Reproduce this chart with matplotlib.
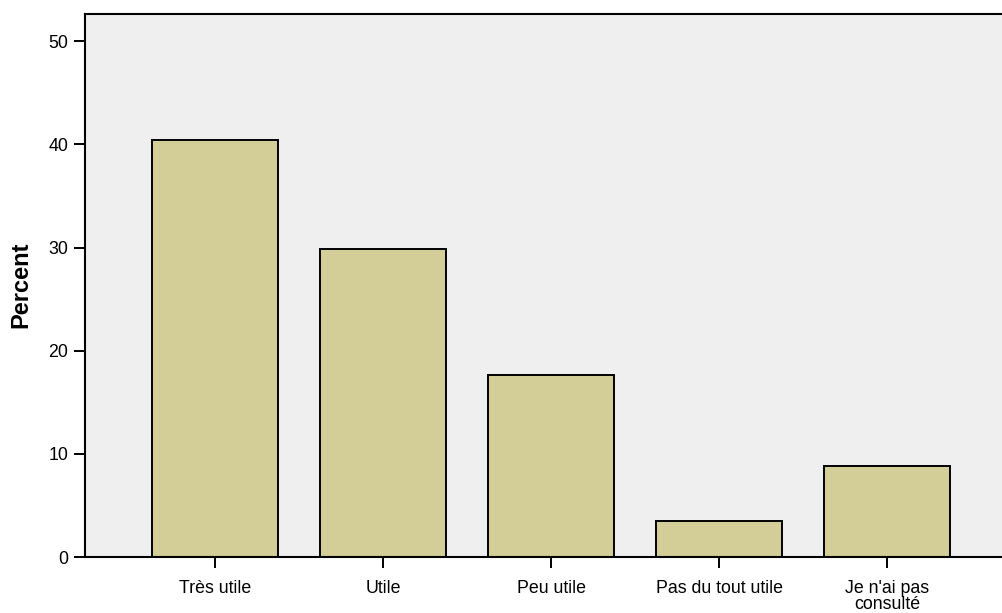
import matplotlib.pyplot as plt

# Data
categories = ['Très utile', 'Utile', 'Peu utile', 'Pas du tout utile', "Je n'ai pas\nconsulté"]
percent = [40.4, 29.9, 17.6, 3.5, 8.8]
y_ticks = [0, 10, 20, 30, 40, 50]

plt.rcParams['font.family'] = ['Liberation Sans', 'DejaVu Sans']

fig = plt.figure(figsize=(10.03, 6.13), dpi=100)
ax = fig.add_axes([85 / 1003, 1 - 557 / 613, 1 - 85 / 1003, (557 - 13.5) / 613])
ax.set_facecolor('#efefef')

x = list(range(len(categories)))
ax.bar(x, percent, width=0.75, color='#d3ce97', edgecolor='black', linewidth=1.4, zorder=2)

ax.set_xlim(-0.774, 4.69)
ax.set_ylim(0, 52.7)
ax.set_xticks(x)
ax.set_xticklabels(categories, fontsize=12.8, linespacing=0.9)
ax.set_yticks(y_ticks)
ax.tick_params(axis='y', labelsize=12.8, length=8, width=1.4, pad=4)
ax.tick_params(axis='x', length=8, width=1.4, pad=8.5)
ax.spines['right'].set_visible(False)
for s in ['top', 'bottom', 'left']:
    ax.spines[s].set_linewidth(1.5)

ax.set_ylabel('Percent', fontsize=17, fontweight='bold')
ax.yaxis.set_label_coords(-0.057, 0.5)

fig.savefig('out.png', dpi=100)
